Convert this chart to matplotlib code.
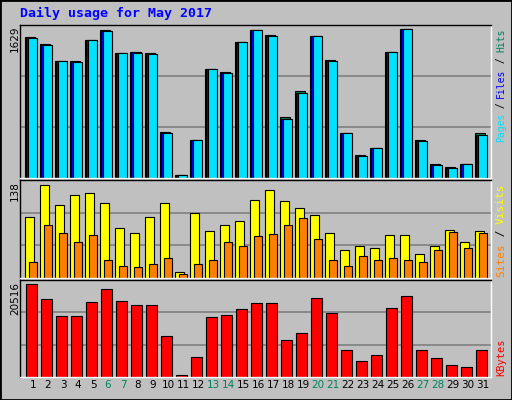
import matplotlib
matplotlib.use("Agg")
import matplotlib.pyplot as plt
from matplotlib.patches import Rectangle
import numpy as np

days = list(range(1, 32))
weekends = [6, 7, 13, 14, 20, 21, 27, 28]
hits = [1541,1467,1275,1275,1508,1618,1364,1375,1364,501,37,413,1187,1157,1485,1618,1567,667,947,1552,1286,490,247,328,1375,1629,413,158,125,158,490]
files = [1530,1455,1275,1265,1508,1607,1364,1375,1354,490,37,413,1187,1146,1485,1618,1552,645,932,1552,1275,490,236,328,1375,1629,405,147,114,158,468]
pages = [1530,1455,1275,1265,1508,1607,1364,1364,1354,490,37,413,1187,1146,1485,1618,1552,645,932,1552,1275,490,236,328,1375,1629,405,147,114,158,468]
visits = [90,138,108,123,126,111,74,66,91,111,9.5,96,69,78,84,116,130,114,104,93,66,41,48,44,63,63,35,48,71,53,69]
sites = [24,78,66,53,63,27,18,17,21,29,6.5,21,27,53,47,62,65,78,89,57,27,18,33,26,29,26,23,42,68,44,66]
kbytes = [20516,17370,13550,13550,16700,19400,16930,16030,16030,9060,520,4340,13330,13780,15130,16480,16480,8160,9740,17600,14230,5920,3450,4790,15350,18050,5920,4120,2550,2320,5920]

BG = "#C0C0C0"
fig = plt.figure(figsize=(5.12, 4.0), dpi=100, facecolor=BG)
fig.patches.append(Rectangle((0, 0), 1, 1, transform=fig.transFigure, fill=False, edgecolor="black", lw=2))
W, H = 512, 400
def ax_at(x0, y0, x1, y1):
    a = fig.add_axes([x0 / W, 1 - y1 / H, (x1 - x0) / W, (y1 - y0) / H])
    a.set_facecolor(BG)
    a.set_xlim(0.133, 31.53)
    a.set_xticks([]); a.set_yticks([])
    for s in a.spines.values():
        s.set_color("black"); s.set_linewidth(1)
    a.spines["right"].set_color("white"); a.spines["bottom"].set_color("white")
    return a

x = np.array(days, dtype=float)
kw = dict(edgecolor="black", linewidth=0.8, align="edge")

a1 = ax_at(20, 25, 491, 178)
top = 1629 * 152 / 148
a1.set_ylim(0, top)
for g in (top / 3, 2 * top / 3):
    a1.axhline(g, color="#808080", lw=1.2, zorder=0)
a1.bar(x - 0.53, hits, width=0.68, color="#00805c", **kw)
a1.bar(x - 0.45, files, width=0.62, color="#0000ff", **kw)
a1.bar(x - 0.36, pages, width=0.6, color="#00e0ff", **kw)

a2 = ax_at(20, 180, 491, 278)
top2 = 138 * 97 / 92.3
a2.set_ylim(0, top2)
for g in (top2 / 3, 2 * top2 / 3):
    a2.axhline(g, color="#808080", lw=1.2, zorder=0)
a2.bar(x - 0.51, visits, width=0.55, color="#ffff00", **kw)
a2.bar(x - 0.24, sites, width=0.48, color="#ff8000", **kw)

a3 = ax_at(20, 280, 491, 377)
top3 = 20516 * 95.7 / 91.3
a3.set_ylim(0, top3)
for g in (top3 / 3, 2 * top3 / 3):
    a3.axhline(g, color="#808080", lw=1.2, zorder=0)
a3.bar(x - 0.44, kbytes, width=0.68, color="#ff0000", **kw)

for d in days:
    a3.text(d, -0.03, str(d), transform=a3.get_xaxis_transform(), ha="center", va="top",
            fontsize=7.5, family="DejaVu Sans", color="#00805c" if d in weekends else "black")

fig.text(20 / W, 1 - 13 / H, "Daily usage for May 2017", color="#0000ff", fontsize=9.5,
         family="DejaVu Sans Mono", weight="bold", va="center")
for lab, yy in (("1629", 26), ("138", 181), ("20516", 282)):
    fig.text(15 / W, 1 - yy / H, lab, rotation=90, ha="center", va="top", fontsize=7.5, family="DejaVu Sans")

def rlabel(parts, ytop, cwpx, fs):
    pos = 1 - ytop / H
    for p, c in parts[::-1]:
        fig.text(501 / W, pos, p, rotation=90, ha="center", va="top", color=c,
                 fontsize=fs, family="DejaVu Sans Mono")
        pos -= len(p) * cwpx / H

rlabel([("Pages", "#00e0ff"), (" / ", "black"), ("Files", "#0000ff"), (" / ", "black"), ("Hits", "#00805c")], 29, 5.6, 7)
rlabel([("Sites", "#ff8000"), (" / ", "black"), ("Visits", "#ffff00")], 183, 6.7, 8)
rlabel([("KBytes", "#ff0000")], 339, 6.0, 7.5)

fig.savefig("out.png", dpi=100, facecolor=BG)
